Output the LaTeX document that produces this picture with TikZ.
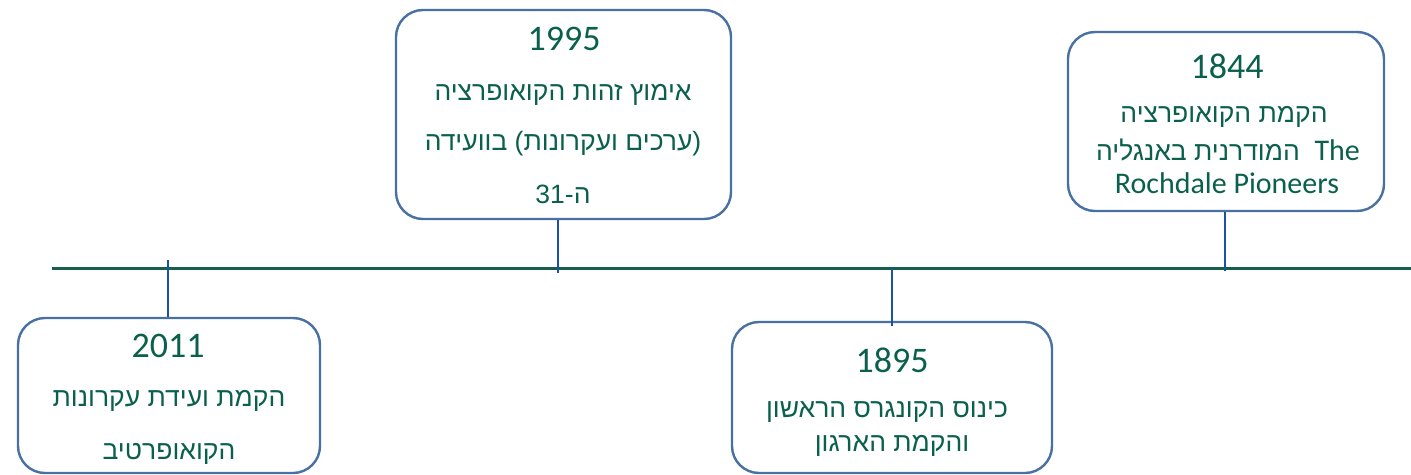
\documentclass[tikz,border=0pt]{standalone}
\usepackage{fontspec}
\setmainfont{Carlito}
\newfontfamily\heb[Script=Hebrew]{Liberation Sans}
\TeXXeTstate=1
\definecolor{boxline}{RGB}{72,112,162}
\definecolor{txt}{RGB}{10,96,76}
\definecolor{axis}{RGB}{24,94,76}
\definecolor{conn}{RGB}{26,82,166}
\begin{document}
\begin{tikzpicture}[x=1pt,y=-1pt,
  evbox/.style={draw=boxline,line width=2.4pt,rounded corners=27pt,inner sep=0pt},
  yr/.style={text=txt,font=\fontsize{36}{40}\selectfont,anchor=base,inner sep=0pt},
  hb/.style={text=txt,font=\heb\fontsize{26.5}{30}\selectfont,anchor=base,inner sep=0pt},
  lt/.style={text=txt,font=\fontsize{30}{34}\selectfont,anchor=base,inner sep=0pt},
  axisline/.style={draw=axis,line width=3pt},
  connline/.style={draw=conn,line width=2.4pt}]
\useasboundingbox (0,0) rectangle (1411,474);

% timeline
\coordinate (tl0) at (52,268);
\coordinate (tl1) at (1411,268);
\draw[axisline] (tl0) -- (tl1);

% boxes
\node[evbox,minimum width=335pt,minimum height=209pt] (b1995) at (563.5,114.5) {};
\node[evbox,minimum width=316pt,minimum height=179pt] (b1844) at (1226,121.5) {};
\node[evbox,minimum width=302pt,minimum height=155pt] (b2011) at (169,395.5) {};
\node[evbox,minimum width=320pt,minimum height=151pt] (b1895) at (892,397.5) {};

% connectors
\coordinate (c1995) at (558,273);
\coordinate (c1844) at (1225,271);
\coordinate (c2011) at (168,260);
\coordinate (c1895) at (892,268);
\draw[connline] (b1995.south -| c1995) -- (c1995);
\draw[connline] (b1844.south -| c1844) -- (c1844);
\draw[connline] (c2011) -- (b2011.north -| c2011);
\draw[connline] (c1895) -- ([yshift=-5pt]b1895.north -| c1895);

% 1995
\node[yr] (y1995) at (564,50) {1995};
\node[hb] (t1995a) at (563,100) {\beginR אימוץ זהות הקואופרציה\endR};
\node[hb] (t1995b) at (563,150) {\beginR (ערכים ועקרונות) בוועידה\endR};
\node[hb] (t1995c) at (563,203) {\beginR ה-\beginL 31\endL\endR};

% 1844
\node[yr] (y1844) at (1227,78) {1844};
\node[hb] (t1844a) at (1224,122) {\beginR הקמת הקואופרציה\endR};
\node[hb] (t1844b) at (1228,160) {\beginR המודרנית באנגליה\endR\ \ \fontsize{30}{34}\selectfont\rmfamily The};
\node[lt] (t1844c) at (1227,193) {Rochdale Pioneers};

% 2011
\node[yr] (y2011) at (168,357) {2011};
\node[hb] (t2011a) at (169,406) {\beginR הקמת ועידת עקרונות\endR};
\node[hb] (t2011b) at (169,459) {\beginR הקואופרטיב\endR};

% 1895
\node[yr] (y1895) at (892,372) {1895};
\node[hb] (t1895a) at (887,417) {\beginR כינוס הקונגרס הראשון\endR};
\node[hb] (t1895b) at (892,451) {\beginR והקמת הארגון\endR};
\end{tikzpicture}
\end{document}
